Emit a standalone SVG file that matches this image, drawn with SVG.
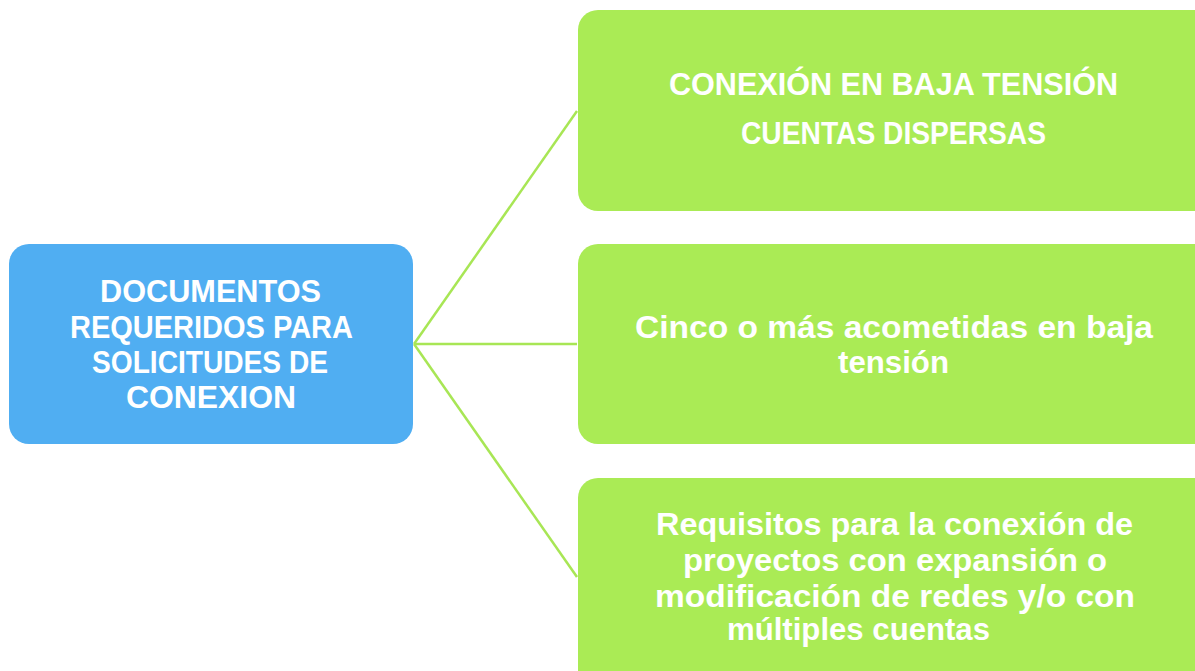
<svg xmlns="http://www.w3.org/2000/svg" width="1195" height="671" viewBox="0 0 1195 671">
<style>
.t{font-family:"Liberation Sans",Arial,sans-serif;font-weight:bold;fill:#ffffff}
.c{font-size:31px}
.l{font-size:32px}
.blue{fill:#50AEF2}
.green{fill:#AAEB55}
.conn{stroke:#A8E655;stroke-width:2.5;fill:none}
</style>
<rect width="1195" height="671" fill="#ffffff"/>
<g id="connectors">
<line class="conn" x1="414" y1="344" x2="577" y2="111"/>
<line class="conn" x1="414" y1="344" x2="577" y2="344"/>
<line class="conn" x1="414" y1="344" x2="577" y2="577"/>
</g>
<g id="root">
<rect class="blue" x="9" y="244" width="404" height="200" rx="20"/>
<text class="t c" x="100" y="302" textLength="221" lengthAdjust="spacingAndGlyphs">DOCUMENTOS</text>
<text class="t c" x="70" y="338" textLength="283" lengthAdjust="spacingAndGlyphs">REQUERIDOS PARA</text>
<text class="t c" x="92" y="373" textLength="236" lengthAdjust="spacingAndGlyphs">SOLICITUDES DE</text>
<text class="t c" x="126" y="408" textLength="170" lengthAdjust="spacingAndGlyphs">CONEXION</text>
</g>
<g id="node1">
<rect class="green" x="578" y="10" width="640" height="201" rx="20"/>
<text class="t c" x="669" y="95" textLength="449" lengthAdjust="spacingAndGlyphs">CONEXIÓN EN BAJA TENSIÓN</text>
<text class="t c" x="741" y="144" textLength="305" lengthAdjust="spacingAndGlyphs">CUENTAS DISPERSAS</text>
</g>
<g id="node2">
<rect class="green" x="578" y="244" width="640" height="200" rx="20"/>
<text class="t l" x="635" y="338" textLength="518" lengthAdjust="spacingAndGlyphs">Cinco o más acometidas en baja</text>
<text class="t l" x="838" y="373" textLength="111" lengthAdjust="spacingAndGlyphs">tensión</text>
</g>
<g id="node3">
<rect class="green" x="578" y="478" width="640" height="220" rx="20"/>
<text class="t l" x="656" y="535" textLength="477" lengthAdjust="spacingAndGlyphs">Requisitos para la conexión de</text>
<text class="t l" x="683" y="571" textLength="424" lengthAdjust="spacingAndGlyphs">proyectos con expansión o</text>
<text class="t l" x="655" y="607" textLength="480" lengthAdjust="spacingAndGlyphs">modificación de redes y/o con</text>
<text class="t l" x="727" y="640" textLength="263" lengthAdjust="spacingAndGlyphs">múltiples cuentas</text>
</g>
</svg>
